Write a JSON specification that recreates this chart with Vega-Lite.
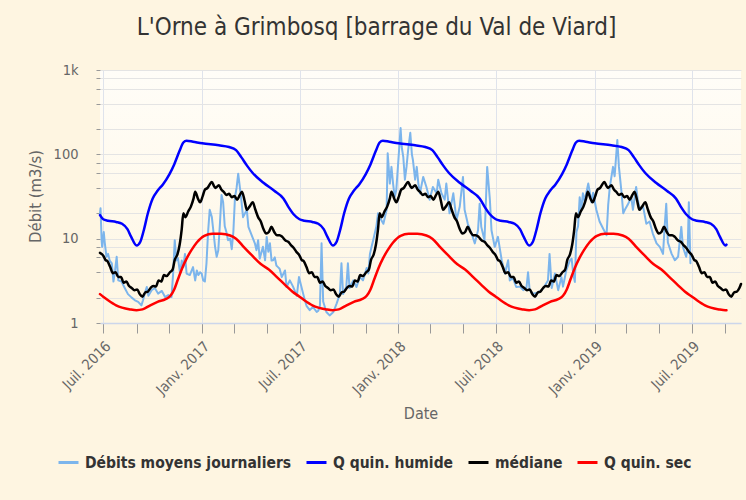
{
  "$schema": "https://vega.github.io/schema/vega-lite/v6.json",
  "autosize": "none",
  "width": 641,
  "height": 253,
  "padding": {"left": 100, "top": 70, "right": 5, "bottom": 177},
  "background": "#fef5e1",
  "view": {"stroke": null, "fill": {"gradient": "linear", "x1": 0, "y1": 0, "x2": 0, "y2": 1, "stops": [{"offset": 0, "color": "#fffdf8"}, {"offset": 1, "color": "#fef6e2"}]}},
  "title": {"text": "L'Orne à Grimbosq [barrage du Val de Viard]", "font": "DejaVu Sans Condensed", "fontSize": 24, "fontWeight": "normal", "color": "#333333", "anchor": "middle", "offset": 22, "dx": -44},
  "config": {"font": "DejaVu Sans Condensed", "line": {"strokeCap": "round", "strokeJoin": "round"}},
  "datasets": {
    "journaliers": [
      {"date":"2016-06-25","q":20},{"date":"2016-06-26","q":23},{"date":"2016-06-28","q":9.6},{"date":"2016-06-29","q":8},{"date":"2016-07-02","q":12},{"date":"2016-07-04","q":8.8},{"date":"2016-07-07","q":6.1},{"date":"2016-07-10","q":6.6},{"date":"2016-07-13","q":5.5},{"date":"2016-07-17","q":5.1},{"date":"2016-07-20","q":3.1},{"date":"2016-07-23","q":4.2},{"date":"2016-07-26","q":6.1},{"date":"2016-07-29","q":3.2},{"date":"2016-08-04","q":3.1},{"date":"2016-08-10","q":2.6},{"date":"2016-08-16","q":2.2},{"date":"2016-08-23","q":2.0},{"date":"2016-08-29","q":1.86},{"date":"2016-09-04","q":1.78},{"date":"2016-09-10","q":1.62},{"date":"2016-09-13","q":1.86},{"date":"2016-09-17","q":2.33},{"date":"2016-09-20","q":2.67},{"date":"2016-09-23","q":2.1},{"date":"2016-09-29","q":2.45},{"date":"2016-10-05","q":2.6},{"date":"2016-10-11","q":2.23},{"date":"2016-10-18","q":2.4},{"date":"2016-10-24","q":2.03},{"date":"2016-10-30","q":2.15},{"date":"2016-11-05","q":2.03},{"date":"2016-11-08","q":3.86},{"date":"2016-11-11","q":9.6},{"date":"2016-11-14","q":5.5},{"date":"2016-11-17","q":5.9},{"date":"2016-11-21","q":3.86},{"date":"2016-11-24","q":5.5},{"date":"2016-11-27","q":4.6},{"date":"2016-11-30","q":6.6},{"date":"2016-12-03","q":3.86},{"date":"2016-12-09","q":3.7},{"date":"2016-12-15","q":4.6},{"date":"2016-12-19","q":3.2},{"date":"2016-12-22","q":4.2},{"date":"2016-12-25","q":3.7},{"date":"2016-12-28","q":4.0},{"date":"2016-12-31","q":3.86},
      {"date":"2017-01-03","q":3.2},{"date":"2017-01-06","q":3.1},{"date":"2017-01-09","q":5.1},{"date":"2017-01-12","q":12},{"date":"2017-01-15","q":22},{"date":"2017-01-19","q":18},{"date":"2017-01-22","q":12},{"date":"2017-01-25","q":8},{"date":"2017-01-28","q":6.1},{"date":"2017-01-31","q":7.3},{"date":"2017-02-03","q":15},{"date":"2017-02-06","q":33},{"date":"2017-02-09","q":27},{"date":"2017-02-12","q":14},{"date":"2017-02-15","q":12},{"date":"2017-02-18","q":9.6},{"date":"2017-02-22","q":10},{"date":"2017-02-25","q":7.5},{"date":"2017-02-28","q":12},{"date":"2017-03-03","q":31},{"date":"2017-03-06","q":40},{"date":"2017-03-09","q":59},{"date":"2017-03-12","q":41},{"date":"2017-03-15","q":28},{"date":"2017-03-18","q":18},{"date":"2017-03-25","q":22},{"date":"2017-03-28","q":13.8},{"date":"2017-04-03","q":11},{"date":"2017-04-09","q":8.8},{"date":"2017-04-12","q":7.3},{"date":"2017-04-15","q":9.6},{"date":"2017-04-18","q":5.8},{"date":"2017-04-24","q":8},{"date":"2017-04-28","q":5.55},{"date":"2017-05-01","q":10.5},{"date":"2017-05-04","q":7},{"date":"2017-05-07","q":8.8},{"date":"2017-05-10","q":5.5},{"date":"2017-05-13","q":5.55},{"date":"2017-05-16","q":6},{"date":"2017-05-19","q":4.8},{"date":"2017-05-22","q":4.6},{"date":"2017-05-25","q":4.4},{"date":"2017-05-29","q":3.5},{"date":"2017-06-04","q":4.2},{"date":"2017-06-07","q":2.67},{"date":"2017-06-13","q":3.2},{"date":"2017-06-19","q":2.7},{"date":"2017-06-26","q":2.1},{"date":"2017-06-30","q":3.5},{"date":"2017-07-08","q":2.2},{"date":"2017-07-11","q":1.86},{"date":"2017-07-14","q":1.6},{"date":"2017-07-20","q":1.42},{"date":"2017-07-26","q":1.55},{"date":"2017-08-02","q":1.35},{"date":"2017-08-05","q":1.4},{"date":"2017-08-08","q":1.6},{"date":"2017-08-11","q":8.8},{"date":"2017-08-14","q":1.8},{"date":"2017-08-20","q":1.35},{"date":"2017-08-26","q":1.23},{"date":"2017-09-02","q":1.35},{"date":"2017-09-08","q":1.7},{"date":"2017-09-14","q":2.2},{"date":"2017-09-17","q":5.1},{"date":"2017-09-20","q":2.2},{"date":"2017-09-26","q":2.67},{"date":"2017-09-29","q":5.1},{"date":"2017-10-02","q":2.6},{"date":"2017-10-09","q":3.2},{"date":"2017-10-15","q":2.67},{"date":"2017-10-21","q":3.5},{"date":"2017-10-27","q":3.2},{"date":"2017-11-03","q":4.5},{"date":"2017-11-06","q":3.86},{"date":"2017-11-09","q":6.6},{"date":"2017-11-12","q":8},{"date":"2017-11-15","q":9.6},{"date":"2017-11-21","q":14},{"date":"2017-11-24","q":20},{"date":"2017-11-27","q":18},{"date":"2017-12-04","q":15},{"date":"2017-12-10","q":22},{"date":"2017-12-12","q":103},{"date":"2017-12-16","q":45},{"date":"2017-12-19","q":71},{"date":"2017-12-22","q":45},{"date":"2017-12-25","q":31},{"date":"2017-12-28","q":38},{"date":"2017-12-31","q":71},
      {"date":"2018-01-05","q":205},{"date":"2018-01-07","q":123},{"date":"2018-01-10","q":93},{"date":"2018-01-13","q":50},{"date":"2018-01-16","q":71},{"date":"2018-01-19","q":112},{"date":"2018-01-23","q":180},{"date":"2018-01-26","q":100},{"date":"2018-01-28","q":85},{"date":"2018-02-01","q":50},{"date":"2018-02-04","q":71},{"date":"2018-02-07","q":45},{"date":"2018-02-10","q":34.5},{"date":"2018-02-16","q":54},{"date":"2018-02-22","q":41},{"date":"2018-02-28","q":29},{"date":"2018-03-06","q":41},{"date":"2018-03-13","q":34.5},{"date":"2018-03-16","q":50},{"date":"2018-03-22","q":34.5},{"date":"2018-03-28","q":29},{"date":"2018-03-31","q":45},{"date":"2018-04-06","q":20},{"date":"2018-04-13","q":34.5},{"date":"2018-04-19","q":16.6},{"date":"2018-04-25","q":24},{"date":"2018-05-01","q":54},{"date":"2018-05-04","q":22},{"date":"2018-05-10","q":15},{"date":"2018-05-17","q":11.5},{"date":"2018-05-23","q":8.8},{"date":"2018-05-29","q":12.6},{"date":"2018-06-01","q":26},{"date":"2018-06-04","q":13.8},{"date":"2018-06-10","q":9.6},{"date":"2018-06-15","q":71},{"date":"2018-06-20","q":29},{"date":"2018-06-23","q":12.6},{"date":"2018-06-29","q":8},{"date":"2018-07-05","q":10.5},{"date":"2018-07-08","q":8},{"date":"2018-07-12","q":5.55},{"date":"2018-07-18","q":3.86},{"date":"2018-07-24","q":5.55},{"date":"2018-07-27","q":3.2},{"date":"2018-08-02","q":3.4},{"date":"2018-08-08","q":2.67},{"date":"2018-08-15","q":2.7},{"date":"2018-08-21","q":2.45},{"date":"2018-08-27","q":2.6},{"date":"2018-08-30","q":4.0},{"date":"2018-09-02","q":2.45},{"date":"2018-09-08","q":2.23},{"date":"2018-09-18","q":2.3},{"date":"2018-09-27","q":2.56},{"date":"2018-10-06","q":3.2},{"date":"2018-10-09","q":6.6},{"date":"2018-10-13","q":2.6},{"date":"2018-10-19","q":3.86},{"date":"2018-10-25","q":2.45},{"date":"2018-10-31","q":3.5},{"date":"2018-11-03","q":2.7},{"date":"2018-11-09","q":4.2},{"date":"2018-11-16","q":5.55},{"date":"2018-11-19","q":5.8},{"date":"2018-11-22","q":3.86},{"date":"2018-11-25","q":3.07},{"date":"2018-11-28","q":12},{"date":"2018-12-01","q":14},{"date":"2018-12-04","q":31},{"date":"2018-12-07","q":22},{"date":"2018-12-10","q":34.5},{"date":"2018-12-13","q":28},{"date":"2018-12-20","q":45},{"date":"2018-12-26","q":27},{"date":"2018-12-29","q":35},
      {"date":"2019-01-04","q":22},{"date":"2019-01-10","q":16},{"date":"2019-01-17","q":13},{"date":"2019-01-23","q":11},{"date":"2019-01-26","q":25},{"date":"2019-01-29","q":41},{"date":"2019-02-04","q":71},{"date":"2019-02-07","q":55},{"date":"2019-02-12","q":148},{"date":"2019-02-15","q":71},{"date":"2019-02-20","q":34.5},{"date":"2019-02-23","q":20},{"date":"2019-02-26","q":22},{"date":"2019-03-03","q":25},{"date":"2019-03-10","q":31},{"date":"2019-03-13","q":22},{"date":"2019-03-19","q":41},{"date":"2019-03-22","q":29},{"date":"2019-03-26","q":22},{"date":"2019-04-01","q":24},{"date":"2019-04-07","q":15},{"date":"2019-04-13","q":16},{"date":"2019-04-19","q":11.5},{"date":"2019-04-26","q":8.8},{"date":"2019-05-02","q":8},{"date":"2019-05-08","q":6.6},{"date":"2019-05-11","q":13.8},{"date":"2019-05-14","q":26},{"date":"2019-05-17","q":9},{"date":"2019-05-24","q":6.6},{"date":"2019-05-30","q":5.55},{"date":"2019-06-05","q":6.1},{"date":"2019-06-11","q":13.8},{"date":"2019-06-14","q":8},{"date":"2019-06-20","q":6.1},{"date":"2019-06-23","q":8},{"date":"2019-06-25","q":27},{"date":"2019-06-28","q":5.1}
    ],
    "humide": [
      {"date":"2016-06-25","q":19},{"date":"2016-07-01","q":17},{"date":"2016-07-10","q":16.3},{"date":"2016-07-25","q":15.8},{"date":"2016-08-05","q":15},{"date":"2016-08-15","q":13},{"date":"2016-08-22","q":10.5},{"date":"2016-09-01","q":8.3},{"date":"2016-09-08","q":9.2},{"date":"2016-09-15","q":13},{"date":"2016-09-22","q":20},{"date":"2016-10-01","q":30},{"date":"2016-10-10","q":37},{"date":"2016-10-20","q":44},{"date":"2016-11-01","q":58},{"date":"2016-11-10","q":76},{"date":"2016-11-20","q":110},{"date":"2016-11-27","q":138},{"date":"2016-12-03","q":145},{"date":"2016-12-15","q":141},
      {"date":"2017-01-01","q":135},{"date":"2017-02-01","q":128},{"date":"2017-02-20","q":122},{"date":"2017-03-05","q":112},{"date":"2017-03-15","q":92},{"date":"2017-03-25","q":74},{"date":"2017-04-05","q":60},{"date":"2017-04-25","q":46},{"date":"2017-05-15","q":37},{"date":"2017-06-01","q":30},{"date":"2017-06-10","q":24},{"date":"2017-06-20","q":19.5},{"date":"2017-07-01","q":17},{"date":"2017-07-10","q":16.3},{"date":"2017-07-25","q":15.8},{"date":"2017-08-05","q":15},{"date":"2017-08-15","q":13},{"date":"2017-08-22","q":10.5},{"date":"2017-09-01","q":8.3},{"date":"2017-09-08","q":9.2},{"date":"2017-09-15","q":13},{"date":"2017-09-22","q":20},{"date":"2017-10-01","q":30},{"date":"2017-10-10","q":37},{"date":"2017-10-20","q":44},{"date":"2017-11-01","q":58},{"date":"2017-11-10","q":76},{"date":"2017-11-20","q":110},{"date":"2017-11-27","q":138},{"date":"2017-12-03","q":145},{"date":"2017-12-15","q":141},
      {"date":"2018-01-01","q":135},{"date":"2018-02-01","q":128},{"date":"2018-02-20","q":122},{"date":"2018-03-05","q":112},{"date":"2018-03-15","q":92},{"date":"2018-03-25","q":74},{"date":"2018-04-05","q":60},{"date":"2018-04-25","q":46},{"date":"2018-05-15","q":37},{"date":"2018-06-01","q":30},{"date":"2018-06-10","q":24},{"date":"2018-06-20","q":19.5},{"date":"2018-07-01","q":17},{"date":"2018-07-10","q":16.3},{"date":"2018-07-25","q":15.8},{"date":"2018-08-05","q":15},{"date":"2018-08-15","q":13},{"date":"2018-08-22","q":10.5},{"date":"2018-09-01","q":8.3},{"date":"2018-09-08","q":9.2},{"date":"2018-09-15","q":13},{"date":"2018-09-22","q":20},{"date":"2018-10-01","q":30},{"date":"2018-10-10","q":37},{"date":"2018-10-20","q":44},{"date":"2018-11-01","q":58},{"date":"2018-11-10","q":76},{"date":"2018-11-20","q":110},{"date":"2018-11-27","q":138},{"date":"2018-12-03","q":145},{"date":"2018-12-15","q":141},
      {"date":"2019-01-01","q":135},{"date":"2019-02-01","q":128},{"date":"2019-02-20","q":122},{"date":"2019-03-05","q":112},{"date":"2019-03-15","q":92},{"date":"2019-03-25","q":74},{"date":"2019-04-05","q":60},{"date":"2019-04-25","q":46},{"date":"2019-05-15","q":37},{"date":"2019-06-01","q":30},{"date":"2019-06-10","q":24},{"date":"2019-06-20","q":19.5},{"date":"2019-07-01","q":17},{"date":"2019-07-10","q":16.3},{"date":"2019-07-25","q":15.8},{"date":"2019-08-05","q":15},{"date":"2019-08-15","q":13},{"date":"2019-08-22","q":10.5},{"date":"2019-09-01","q":8.3},{"date":"2019-09-03","q":8.5}
    ],
    "mediane": [
      {"date":"2016-06-25","q":6.8},
      {"date":"2016-07-01","q":6.3},{"date":"2016-07-05","q":5.6},{"date":"2016-07-09","q":5.4},{"date":"2016-07-14","q":4.6},{"date":"2016-07-19","q":3.9},{"date":"2016-07-24","q":4.0},{"date":"2016-07-29","q":3.5},{"date":"2016-08-03","q":3.5},{"date":"2016-08-08","q":3.0},{"date":"2016-08-13","q":3.1},{"date":"2016-08-18","q":2.75},{"date":"2016-08-23","q":2.6},{"date":"2016-08-28","q":2.45},{"date":"2016-09-02","q":2.5},{"date":"2016-09-07","q":2.2},{"date":"2016-09-12","q":2.05},{"date":"2016-09-17","q":2.3},{"date":"2016-09-22","q":2.35},{"date":"2016-09-27","q":2.6},{"date":"2016-10-02","q":2.75},{"date":"2016-10-07","q":2.7},{"date":"2016-10-12","q":3.2},{"date":"2016-10-17","q":3.1},{"date":"2016-10-22","q":3.7},{"date":"2016-10-27","q":3.6},{"date":"2016-11-02","q":4.0},{"date":"2016-11-07","q":4.3},{"date":"2016-11-11","q":5.6},{"date":"2016-11-16","q":6.5},{"date":"2016-11-20","q":8.4},{"date":"2016-11-24","q":13},{"date":"2016-11-27","q":20},{"date":"2016-12-01","q":18},{"date":"2016-12-06","q":21},{"date":"2016-12-11","q":24},{"date":"2016-12-16","q":30},{"date":"2016-12-19","q":36},{"date":"2016-12-24","q":30},{"date":"2016-12-28","q":27},
      {"date":"2017-01-02","q":32},{"date":"2017-01-06","q":38},{"date":"2017-01-11","q":40},{"date":"2017-01-15","q":44},{"date":"2017-01-19","q":47},{"date":"2017-01-23","q":42},{"date":"2017-01-26","q":40},{"date":"2017-02-01","q":43},{"date":"2017-02-06","q":38},{"date":"2017-02-10","q":36},{"date":"2017-02-15","q":33},{"date":"2017-02-20","q":34},{"date":"2017-02-25","q":31},{"date":"2017-03-02","q":32},{"date":"2017-03-07","q":29},{"date":"2017-03-12","q":33},{"date":"2017-03-16","q":36},{"date":"2017-03-21","q":28},{"date":"2017-03-25","q":22},{"date":"2017-03-30","q":24},{"date":"2017-04-05","q":27},{"date":"2017-04-10","q":22},{"date":"2017-04-15","q":18},{"date":"2017-04-20","q":16},{"date":"2017-04-25","q":13},{"date":"2017-04-30","q":11.5},{"date":"2017-05-05","q":12},{"date":"2017-05-10","q":13.8},{"date":"2017-05-15","q":12},{"date":"2017-05-20","q":11},{"date":"2017-05-25","q":11},{"date":"2017-05-30","q":10.5},{"date":"2017-06-05","q":9.5},{"date":"2017-06-10","q":9.2},{"date":"2017-06-15","q":8.4},{"date":"2017-06-20","q":7.8},{"date":"2017-06-25","q":7.0},
      {"date":"2017-07-01","q":6.3},{"date":"2017-07-05","q":5.6},{"date":"2017-07-09","q":5.4},{"date":"2017-07-14","q":4.6},{"date":"2017-07-19","q":3.9},{"date":"2017-07-24","q":4.0},{"date":"2017-07-29","q":3.5},{"date":"2017-08-03","q":3.5},{"date":"2017-08-08","q":3.0},{"date":"2017-08-13","q":3.1},{"date":"2017-08-18","q":2.75},{"date":"2017-08-23","q":2.6},{"date":"2017-08-28","q":2.45},{"date":"2017-09-02","q":2.5},{"date":"2017-09-07","q":2.2},{"date":"2017-09-12","q":2.05},{"date":"2017-09-17","q":2.3},{"date":"2017-09-22","q":2.35},{"date":"2017-09-27","q":2.6},{"date":"2017-10-02","q":2.75},{"date":"2017-10-07","q":2.7},{"date":"2017-10-12","q":3.2},{"date":"2017-10-17","q":3.1},{"date":"2017-10-22","q":3.7},{"date":"2017-10-27","q":3.6},{"date":"2017-11-02","q":4.0},{"date":"2017-11-07","q":4.3},{"date":"2017-11-11","q":5.6},{"date":"2017-11-16","q":6.5},{"date":"2017-11-20","q":8.4},{"date":"2017-11-24","q":13},{"date":"2017-11-27","q":20},{"date":"2017-12-01","q":18},{"date":"2017-12-06","q":21},{"date":"2017-12-11","q":24},{"date":"2017-12-16","q":30},{"date":"2017-12-19","q":36},{"date":"2017-12-24","q":30},{"date":"2017-12-28","q":27},
      {"date":"2018-01-02","q":32},{"date":"2018-01-06","q":38},{"date":"2018-01-11","q":40},{"date":"2018-01-15","q":44},{"date":"2018-01-19","q":47},{"date":"2018-01-23","q":42},{"date":"2018-01-26","q":40},{"date":"2018-02-01","q":43},{"date":"2018-02-06","q":38},{"date":"2018-02-10","q":36},{"date":"2018-02-15","q":33},{"date":"2018-02-20","q":34},{"date":"2018-02-25","q":31},{"date":"2018-03-02","q":32},{"date":"2018-03-07","q":29},{"date":"2018-03-12","q":33},{"date":"2018-03-16","q":36},{"date":"2018-03-21","q":28},{"date":"2018-03-25","q":22},{"date":"2018-03-30","q":24},{"date":"2018-04-05","q":27},{"date":"2018-04-10","q":22},{"date":"2018-04-15","q":18},{"date":"2018-04-20","q":16},{"date":"2018-04-25","q":13},{"date":"2018-04-30","q":11.5},{"date":"2018-05-05","q":12},{"date":"2018-05-10","q":13.8},{"date":"2018-05-15","q":12},{"date":"2018-05-20","q":11},{"date":"2018-05-25","q":11},{"date":"2018-05-30","q":10.5},{"date":"2018-06-05","q":9.5},{"date":"2018-06-10","q":9.2},{"date":"2018-06-15","q":8.4},{"date":"2018-06-20","q":7.8},{"date":"2018-06-25","q":7.0},
      {"date":"2018-07-01","q":6.3},{"date":"2018-07-05","q":5.6},{"date":"2018-07-09","q":5.4},{"date":"2018-07-14","q":4.6},{"date":"2018-07-19","q":3.9},{"date":"2018-07-24","q":4.0},{"date":"2018-07-29","q":3.5},{"date":"2018-08-03","q":3.5},{"date":"2018-08-08","q":3.0},{"date":"2018-08-13","q":3.1},{"date":"2018-08-18","q":2.75},{"date":"2018-08-23","q":2.6},{"date":"2018-08-28","q":2.45},{"date":"2018-09-02","q":2.5},{"date":"2018-09-07","q":2.2},{"date":"2018-09-12","q":2.05},{"date":"2018-09-17","q":2.3},{"date":"2018-09-22","q":2.35},{"date":"2018-09-27","q":2.6},{"date":"2018-10-02","q":2.75},{"date":"2018-10-07","q":2.7},{"date":"2018-10-12","q":3.2},{"date":"2018-10-17","q":3.1},{"date":"2018-10-22","q":3.7},{"date":"2018-10-27","q":3.6},{"date":"2018-11-02","q":4.0},{"date":"2018-11-07","q":4.3},{"date":"2018-11-11","q":5.6},{"date":"2018-11-16","q":6.5},{"date":"2018-11-20","q":8.4},{"date":"2018-11-24","q":13},{"date":"2018-11-27","q":20},{"date":"2018-12-01","q":18},{"date":"2018-12-06","q":21},{"date":"2018-12-11","q":24},{"date":"2018-12-16","q":30},{"date":"2018-12-19","q":36},{"date":"2018-12-24","q":30},{"date":"2018-12-28","q":27},
      {"date":"2019-01-02","q":32},{"date":"2019-01-06","q":38},{"date":"2019-01-11","q":40},{"date":"2019-01-15","q":44},{"date":"2019-01-19","q":47},{"date":"2019-01-23","q":42},{"date":"2019-01-26","q":40},{"date":"2019-02-01","q":43},{"date":"2019-02-06","q":38},{"date":"2019-02-10","q":36},{"date":"2019-02-15","q":33},{"date":"2019-02-20","q":34},{"date":"2019-02-25","q":31},{"date":"2019-03-02","q":32},{"date":"2019-03-07","q":29},{"date":"2019-03-12","q":33},{"date":"2019-03-16","q":36},{"date":"2019-03-21","q":28},{"date":"2019-03-25","q":22},{"date":"2019-03-30","q":24},{"date":"2019-04-05","q":27},{"date":"2019-04-10","q":22},{"date":"2019-04-15","q":18},{"date":"2019-04-20","q":16},{"date":"2019-04-25","q":13},{"date":"2019-04-30","q":11.5},{"date":"2019-05-05","q":12},{"date":"2019-05-10","q":13.8},{"date":"2019-05-15","q":12},{"date":"2019-05-20","q":11},{"date":"2019-05-25","q":11},{"date":"2019-05-30","q":10.5},{"date":"2019-06-05","q":9.5},{"date":"2019-06-10","q":9.2},{"date":"2019-06-15","q":8.4},{"date":"2019-06-20","q":7.8},{"date":"2019-06-25","q":7.0},
      {"date":"2019-07-01","q":6.3},{"date":"2019-07-05","q":5.6},{"date":"2019-07-09","q":5.4},{"date":"2019-07-14","q":4.6},{"date":"2019-07-19","q":3.9},{"date":"2019-07-24","q":4.0},{"date":"2019-07-29","q":3.5},{"date":"2019-08-03","q":3.5},{"date":"2019-08-08","q":3.0},{"date":"2019-08-13","q":3.1},{"date":"2019-08-18","q":2.75},{"date":"2019-08-23","q":2.6},{"date":"2019-08-28","q":2.45},{"date":"2019-09-02","q":2.5},{"date":"2019-09-07","q":2.2},{"date":"2019-09-12","q":2.05},{"date":"2019-09-17","q":2.3},{"date":"2019-09-22","q":2.35},{"date":"2019-09-27","q":2.6},{"date":"2019-09-30","q":2.9}
    ],
    "sec": [
      {"date":"2016-06-25","q":2.2},{"date":"2016-07-01","q":2.05},{"date":"2016-07-10","q":1.86},{"date":"2016-07-25","q":1.62},{"date":"2016-08-05","q":1.52},{"date":"2016-08-20","q":1.45},{"date":"2016-09-01","q":1.42},{"date":"2016-09-12","q":1.45},{"date":"2016-09-25","q":1.6},{"date":"2016-10-10","q":1.78},{"date":"2016-10-25","q":1.92},{"date":"2016-11-03","q":2.1},{"date":"2016-11-10","q":2.5},{"date":"2016-11-17","q":3.3},{"date":"2016-11-25","q":4.5},{"date":"2016-12-03","q":5.8},{"date":"2016-12-12","q":7.3},{"date":"2016-12-22","q":9},
      {"date":"2017-01-05","q":10.8},{"date":"2017-01-20","q":11.4},{"date":"2017-02-05","q":11.4},{"date":"2017-02-22","q":10.9},{"date":"2017-03-05","q":10},{"date":"2017-03-20","q":7.9},{"date":"2017-04-05","q":6.2},{"date":"2017-04-20","q":5},{"date":"2017-05-05","q":4.3},{"date":"2017-05-20","q":3.5},{"date":"2017-06-05","q":2.8},{"date":"2017-06-18","q":2.35},{"date":"2017-07-01","q":2.05},{"date":"2017-07-10","q":1.86},{"date":"2017-07-25","q":1.62},{"date":"2017-08-05","q":1.52},{"date":"2017-08-20","q":1.45},{"date":"2017-09-01","q":1.42},{"date":"2017-09-12","q":1.45},{"date":"2017-09-25","q":1.6},{"date":"2017-10-10","q":1.78},{"date":"2017-10-25","q":1.92},{"date":"2017-11-03","q":2.1},{"date":"2017-11-10","q":2.5},{"date":"2017-11-17","q":3.3},{"date":"2017-11-25","q":4.5},{"date":"2017-12-03","q":5.8},{"date":"2017-12-12","q":7.3},{"date":"2017-12-22","q":9},
      {"date":"2018-01-05","q":10.8},{"date":"2018-01-20","q":11.4},{"date":"2018-02-05","q":11.4},{"date":"2018-02-22","q":10.9},{"date":"2018-03-05","q":10},{"date":"2018-03-20","q":7.9},{"date":"2018-04-05","q":6.2},{"date":"2018-04-20","q":5},{"date":"2018-05-05","q":4.3},{"date":"2018-05-20","q":3.5},{"date":"2018-06-05","q":2.8},{"date":"2018-06-18","q":2.35},{"date":"2018-07-01","q":2.05},{"date":"2018-07-10","q":1.86},{"date":"2018-07-25","q":1.62},{"date":"2018-08-05","q":1.52},{"date":"2018-08-20","q":1.45},{"date":"2018-09-01","q":1.42},{"date":"2018-09-12","q":1.45},{"date":"2018-09-25","q":1.6},{"date":"2018-10-10","q":1.78},{"date":"2018-10-25","q":1.92},{"date":"2018-11-03","q":2.1},{"date":"2018-11-10","q":2.5},{"date":"2018-11-17","q":3.3},{"date":"2018-11-25","q":4.5},{"date":"2018-12-03","q":5.8},{"date":"2018-12-12","q":7.3},{"date":"2018-12-22","q":9},
      {"date":"2019-01-05","q":10.8},{"date":"2019-01-20","q":11.4},{"date":"2019-02-05","q":11.4},{"date":"2019-02-22","q":10.9},{"date":"2019-03-05","q":10},{"date":"2019-03-20","q":7.9},{"date":"2019-04-05","q":6.2},{"date":"2019-04-20","q":5},{"date":"2019-05-05","q":4.3},{"date":"2019-05-20","q":3.5},{"date":"2019-06-05","q":2.8},{"date":"2019-06-18","q":2.35},{"date":"2019-07-01","q":2.05},{"date":"2019-07-10","q":1.86},{"date":"2019-07-25","q":1.62},{"date":"2019-08-05","q":1.52},{"date":"2019-08-20","q":1.45},{"date":"2019-09-01","q":1.42},{"date":"2019-09-03","q":1.42}
    ]
  },
  "encoding": {
    "x": {
      "field": "date", "type": "temporal",
      "scale": {"type": "utc", "domain": [{"year": 2016, "month": 6, "date": 25, "utc": true}, {"year": 2019, "month": 9, "date": 30, "utc": true}]},
      "axis": {
        "tickCount": {"interval": "month", "step": 2},
        "labelExpr": "utcmonth(datum.value) == 0 ? 'Janv. ' + utcyear(datum.value) : (utcmonth(datum.value) == 6 ? 'Juil. ' + utcyear(datum.value) : '')",
        "labelAngle": -45, "labelAlign": "right", "labelBaseline": "top",
        "labelFontSize": 14.5, "labelColor": "#666666", "labelPadding": 6,
        "labelOverlap": false, "labelFlush": false, "labelBound": false,
        "tickSize": 10, "tickColor": "#999999", "tickWidth": 1,
        "domainColor": "#ccd6eb", "domainWidth": 1.5,
        "grid": true, "gridColor": "#dfe3ec", "gridWidth": 1,
        "gridOpacity": {"condition": {"test": "utcmonth(datum.value) % 6 == 0", "value": 1}, "value": 0},
        "title": "Date", "titleFontSize": 16, "titleFontWeight": "normal", "titleColor": "#666666", "titleY": 82, "titleBaseline": "top"
      }
    },
    "y": {
      "field": "q", "type": "quantitative",
      "scale": {"type": "log", "domain": [1, 1000], "nice": false},
      "axis": {
        "values": [1, 2, 4, 6, 8, 10, 20, 40, 60, 80, 100, 200, 400, 600, 800, 1000],
        "labelExpr": "datum.value == 1000 ? '1k' : (datum.value == 1 || datum.value == 10 || datum.value == 100 ? '' + datum.value : '')",
        "labelFontSize": 14.5, "labelColor": "#666666", "labelPadding": 18,
        "labelOverlap": false, "labelFlush": false,
        "tickSize": 4, "tickColor": "#999999",
        "domain": false,
        "grid": true, "gridColor": "#e4e4e4", "gridWidth": 1,
        "title": "Débit (m3/s)", "titleFontSize": 16.5, "titleFontWeight": "normal", "titleColor": "#666666", "titleX": -57, "titleY": 126
      }
    }
  },
  "layer": [
    {
      "data": {"name": "journaliers"},
      "mark": {"type": "line", "strokeWidth": 2, "interpolate": "linear"},
      "encoding": {
        "color": {
          "datum": "Débits moyens journaliers", "type": "nominal",
          "scale": {"domain": ["Débits moyens journaliers", "Q quin. humide", "médiane", "Q quin. sec"], "range": ["#7cb5ec", "#0000ff", "#000000", "#ff0000"]},
          "legend": {"orient": "none", "legendX": -43, "legendY": 381, "direction": "horizontal", "title": null, "symbolType": "stroke", "symbolStrokeWidth": 3, "symbolSize": 400, "labelFontSize": 15.5, "labelFontWeight": "bold", "labelColor": "#333333", "labelFont": "DejaVu Sans Condensed", "columnPadding": 13, "labelOffset": 5, "padding": 0, "labelLimit": 400}
        }
      }
    },
    {
      "data": {"name": "humide"},
      "mark": {"type": "line", "strokeWidth": 2.5, "interpolate": "monotone"},
      "encoding": {"color": {"datum": "Q quin. humide", "type": "nominal"}}
    },
    {
      "data": {"name": "mediane"},
      "mark": {"type": "line", "strokeWidth": 2.5, "interpolate": "monotone"},
      "encoding": {"color": {"datum": "médiane", "type": "nominal"}}
    },
    {
      "data": {"name": "sec"},
      "mark": {"type": "line", "strokeWidth": 2.5, "interpolate": "monotone"},
      "encoding": {"color": {"datum": "Q quin. sec", "type": "nominal"}}
    }
  ]
}
